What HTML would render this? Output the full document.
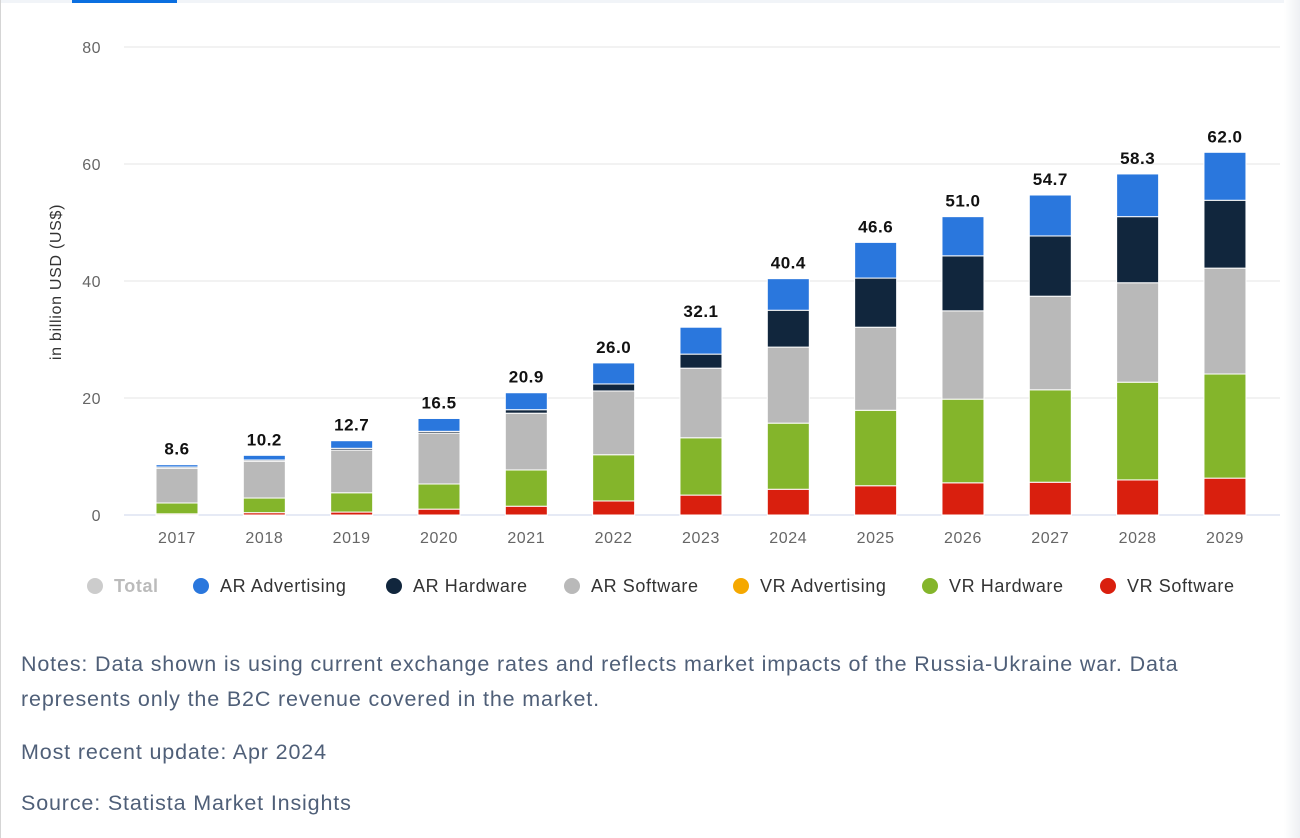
<!DOCTYPE html>
<html><head><meta charset="utf-8"><style>
body{margin:0;width:1300px;height:838px;background:#fff;overflow:hidden;font-family:"Liberation Sans",sans-serif;position:relative}
.top{position:absolute;left:0;top:0;width:1300px;height:3px;background:#f1f4f8}
.tab{position:absolute;left:72px;top:0;width:105px;height:3px;background:#0b6fe0}
.lb{position:absolute;left:0;top:0;width:1px;height:838px;background:#d5d5d5}
.rs{position:absolute;left:1284px;top:0;width:16px;height:838px;background:linear-gradient(to right,#fff,#eef0f3)}
.notes{position:absolute;left:21px;color:#4f5f78;font-size:21.5px;line-height:35px;letter-spacing:0.85px}
</style></head><body>
<div class="top"></div><div class="tab"></div><div class="lb"></div><div class="rs"></div>
<svg id="c" width="1300" height="620" style="position:absolute;left:0;top:0"></svg>
<div class="notes" style="top:647px;width:1230px">Notes: Data shown is using current exchange rates and reflects market impacts of the Russia-Ukraine war. Data represents only the B2C revenue covered in the market.</div>
<div class="notes" style="top:735px">Most recent update: Apr 2024</div>
<div class="notes" style="top:786px">Source: Statista Market Insights</div>
<script>
var s='';
var y0=515,k=5.85;
function Y(v){return y0-v*k}
[0,20,40,60,80].forEach(function(v){
 s+='<line x1="124" x2="1280" y1="'+Y(v)+'" y2="'+Y(v)+'" stroke="'+(v==0?'#ccd6eb':'#e6e6e6')+'" stroke-width="1"/>';
 s+='<text x="101" y="'+(Y(v)+6)+'" text-anchor="end" font-size="16" letter-spacing="0.5" fill="#666">'+v+'</text>';
});
s+='<text transform="translate(61,282) rotate(-90)" text-anchor="middle" font-size="16" letter-spacing="0.7" fill="#333">in billion USD (US$)</text>';
var d=[
[2017,0.2,2.05,8.0,8.2,8.6],[2018,0.4,2.9,9.2,9.4,10.2],[2019,0.5,3.8,11.1,11.4,12.7],
[2020,1.0,5.3,14.0,14.3,16.5],[2021,1.5,7.7,17.4,18.0,20.9],[2022,2.4,10.3,21.2,22.4,26.0],
[2023,3.4,13.2,25.1,27.5,32.1],[2024,4.4,15.7,28.7,35.0,40.4],[2025,5.0,17.9,32.1,40.5,46.6],
[2026,5.5,19.8,34.9,44.3,51.0],[2027,5.6,21.4,37.4,47.7,54.7],[2028,6.0,22.7,39.7,51.0,58.3],
[2029,6.3,24.1,42.2,53.8,62.0]];
var col=['#d91f0e','#84b52b','#b9b9b9','#11263d','#2a77dd'];
d.forEach(function(r,i){
 var cx=177+i*87.33,x=cx-21,prev=0;
 for(var j=1;j<=5;j++){
  var yt=Y(r[j]),yb=Y(prev);
  if(yb-yt>0.3)s+='<rect x="'+x+'" y="'+yt+'" width="42" height="'+(yb-yt)+'" fill="'+col[j-1]+'" stroke="#fff" stroke-width="1"/>';
  prev=r[j];
 }
 s+='<text x="'+cx+'" y="'+(Y(r[5])-10)+'" text-anchor="middle" font-size="17" font-weight="bold" letter-spacing="0.5" fill="#111">'+r[5].toFixed(1)+'</text>';
 s+='<text x="'+cx+'" y="543" text-anchor="middle" font-size="16" letter-spacing="0.6" fill="#666">'+r[0]+'</text>';
});
var lg=[['Total','#cccccc',95,'#bbb'],['AR Advertising','#2a77dd',201,'#333'],['AR Hardware','#11263d',394,'#333'],['AR Software','#b9b9b9',572,'#333'],['VR Advertising','#f5a800',741,'#333'],['VR Hardware','#84b52b',930,'#333'],['VR Software','#d91f0e',1108,'#333']];
lg.forEach(function(l){
 s+='<circle cx="'+l[2]+'" cy="586" r="8" fill="'+l[1]+'"/>';
 s+='<text x="'+(l[2]+19)+'" y="592" font-size="18" letter-spacing="0.6" fill="'+l[3]+'"'+(l[0]=='Total'?' font-weight="bold"':'')+'>'+l[0]+'</text>';
});
document.getElementById('c').innerHTML=s;
</script>
</body></html>
